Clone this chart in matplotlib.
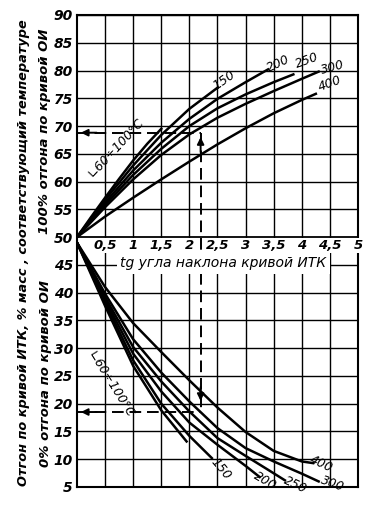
import matplotlib
matplotlib.use('Agg')
import matplotlib.pyplot as plt

# upper family: temperature of 100% OI distillation (y 50..90)
top_100_x = [0, 0.25, 0.5, 0.75, 1.0, 1.25, 1.5]
top_100_y = [50, 53.6, 57.1, 60.5, 63.8, 66.8, 69.5]
top_150_x = [0, 0.5, 1.0, 1.5, 2.0, 2.5]
top_150_y = [50, 56.7, 62.9, 68.4, 73.1, 76.9]
top_200_x = [0, 0.5, 1.0, 1.5, 2.0, 2.5, 3.0, 3.4]
top_200_y = [50, 56.2, 62.0, 67.0, 71.3, 74.9, 77.9, 80.2]
top_250_x = [0, 0.5, 1.0, 1.5, 2.0, 2.5, 3.0, 3.5, 3.85]
top_250_y = [50, 55.8, 61.2, 65.9, 70.0, 73.2, 75.7, 77.9, 79.3]
top_300_x = [0, 0.5, 1.0, 1.5, 2.0, 2.5, 3.0, 3.5, 4.0, 4.3]
top_300_y = [50, 55.4, 60.4, 64.8, 68.5, 71.5, 74.0, 76.3, 78.5, 79.8]
top_400_x = [0, 0.5, 1.0, 1.5, 2.0, 2.5, 3.0, 3.5, 4.0, 4.25]
top_400_y = [50, 53.7, 57.1, 60.4, 63.6, 66.7, 69.6, 72.3, 74.7, 75.8]

# lower family: temperature of 0% OI distillation (y 5..45)
bot_100_x = [0, 0.5, 1.0, 1.5, 1.95]
bot_100_y = [49, 37.6, 26.8, 18.8, 13.2]
bot_150_x = [0, 0.5, 1.0, 1.5, 2.0, 2.4]
bot_150_y = [49, 38.2, 27.8, 20.0, 14.2, 10.2]
bot_200_x = [0, 0.5, 1.0, 1.5, 2.0, 2.5, 3.0, 3.25]
bot_200_y = [49, 38.7, 29.0, 22.2, 16.6, 12.6, 8.8, 6.8]
bot_250_x = [0, 0.5, 1.0, 1.5, 2.0, 2.5, 3.0, 3.4, 3.7]
bot_250_y = [49, 39.2, 30.2, 24.0, 18.6, 13.8, 10.6, 8.1, 6.2]
bot_300_x = [0, 0.5, 1.0, 1.5, 2.0, 2.5, 3.0, 3.5, 4.0, 4.3]
bot_300_y = [49, 39.8, 31.6, 25.6, 20.4, 15.6, 12.0, 9.6, 7.4, 6.0]
bot_400_x = [0, 0.5, 1.0, 1.5, 2.0, 2.5, 3.0, 3.5, 4.0, 4.2]
bot_400_y = [49, 41.0, 34.5, 29.3, 24.2, 19.3, 14.9, 11.5, 9.6, 9.3]

top_curves = [(top_100_x, top_100_y), (top_150_x, top_150_y), (top_200_x, top_200_y),
              (top_250_x, top_250_y), (top_300_x, top_300_y), (top_400_x, top_400_y)]
bot_curves = [(bot_100_x, bot_100_y), (bot_150_x, bot_150_y), (bot_200_x, bot_200_y),
              (bot_250_x, bot_250_y), (bot_300_x, bot_300_y), (bot_400_x, bot_400_y)]

# worked example: tg = 2.2 -> 68.8 (100%) and 18.5 (0%)
ex_tg = 2.2
ex_100 = 68.8
ex_0 = 18.5

x_ticks = [0.5, 1, 1.5, 2, 2.5, 3, 3.5, 4, 4.5, 5]
x_labels = ['0,5', '1', '1,5', '2', '2,5', '3', '3,5', '4', '4,5', '5']
y_ticks = list(range(5, 95, 5))

fig = plt.figure(figsize=(3.75, 5.15), dpi=100)
ax = fig.add_axes([0.2053, 0.0544, 0.7493, 0.9165])
ax.set_xlim(0, 5)
ax.set_ylim(5, 90)

# grid
for gx in [0.5 * i for i in range(1, 10)]:
    ax.axvline(gx, color='black', lw=1.0, zorder=1)
for gy in y_ticks:
    ax.axhline(gy, color='black', lw=1.3 if gy == 50 else 1.0, zorder=1)

for cx, cy in top_curves:
    ax.plot(cx, cy, color='black', lw=1.8, zorder=3)
for cx, cy in bot_curves:
    ax.plot(cx, cy, color='black', lw=1.8, zorder=3)

# example path
dash = (0, (6, 3))
ax.plot([0, ex_tg], [ex_100, ex_100], color='black', lw=1.4, ls=dash, zorder=4)
ax.plot([ex_tg, ex_tg], [ex_100, ex_0], color='black', lw=1.4, ls=dash, zorder=4)
ax.plot([0, ex_tg], [ex_0, ex_0], color='black', lw=1.4, ls=dash, zorder=4)
arr = dict(arrowstyle='-|>', color='black', lw=1.4, mutation_scale=10)
ax.annotate('', xy=(0.02, ex_100), xytext=(0.4, ex_100), arrowprops=arr, zorder=5)
ax.annotate('', xy=(0.02, ex_0), xytext=(0.4, ex_0), arrowprops=arr, zorder=5)
ax.annotate('', xy=(ex_tg, ex_100 - 0.3), xytext=(ex_tg, ex_100 - 4), arrowprops=arr, zorder=5)
ax.annotate('', xy=(ex_tg, ex_0 + 1.5), xytext=(ex_tg, ex_0 + 5), arrowprops=arr, zorder=5)

# x tick labels between the two families
for xv, xl in zip(x_ticks, x_labels):
    ax.text(xv, 48.5, xl, ha='center', va='center', fontsize=9.5, style='italic',
            fontweight='bold', zorder=6,
            bbox=dict(facecolor='white', edgecolor='none', pad=0.6))
ax.text(2.6, 45.3, 'tg угла наклона кривой ИТК', ha='center', va='center', fontsize=10,
        style='italic', zorder=6,
        bbox=dict(facecolor='white', edgecolor='none', pad=2.5))

# curve labels
lab = dict(fontsize=9, style='italic', zorder=6)
ax.text(0.68, 66.0, '∟60÷100°С', rotation=47, ha='center', va='center', **lab)
ax.text(2.62, 78.2, '150', rotation=35, ha='center', va='center', **lab)
ax.text(3.58, 81.2, '200', rotation=25, ha='center', va='center', **lab)
ax.text(4.1, 81.8, '250', rotation=20, ha='center', va='center', **lab)
ax.text(4.55, 80.6, '300', rotation=15, ha='center', va='center', **lab)
ax.text(4.5, 77.6, '400', rotation=20, ha='center', va='center', **lab)

ax.text(0.6, 23.5, '∟60÷100°С', rotation=-58, ha='center', va='center', **lab)
ax.text(2.55, 8.3, '150', rotation=-50, ha='center', va='center', **lab)
ax.text(3.35, 6.1, '200', rotation=-30, ha='center', va='center', **lab)
ax.text(3.88, 5.3, '250', rotation=-25, ha='center', va='center', **lab)
ax.text(4.55, 5.6, '300', rotation=-20, ha='center', va='center', **lab)
ax.text(4.35, 9.2, '400', rotation=-25, ha='center', va='center', **lab)

ax.set_xticks([])
ax.set_yticks(y_ticks)
ax.set_yticklabels([str(v) for v in y_ticks], fontsize=10, style='italic', fontweight='bold')
ax.tick_params(axis='y', length=0, pad=3)
for s in ax.spines.values():
    s.set_linewidth(1.5)

# rotated axis titles on the left
fig.text(0.062, 0.51, 'Отгон по кривой ИТК, % масс , соответствующий температуре',
         rotation=90, ha='center', va='center', fontsize=9.3, style='italic', fontweight='bold')
fig.text(0.118, 0.745, '100% отгона по кривой ОИ', rotation=90, ha='center', va='center',
         fontsize=9.5, style='italic', fontweight='bold')
fig.text(0.121, 0.275, '0% отгона по кривой ОИ', rotation=90, ha='center', va='center',
         fontsize=9.5, style='italic', fontweight='bold')

fig.savefig('out.png', dpi=100)
